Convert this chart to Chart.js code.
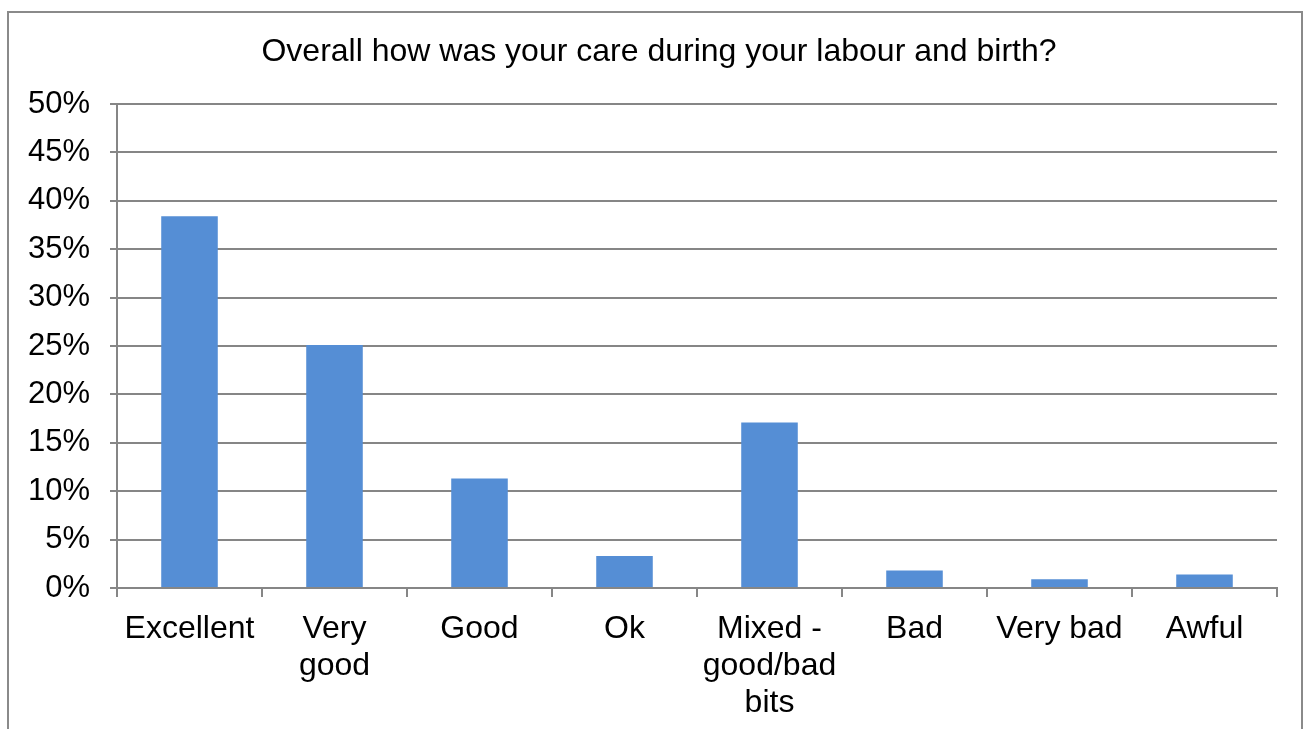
<!DOCTYPE html>
<html>
<head>
<meta charset="utf-8">
<script src="https://cdn.jsdelivr.net/npm/chart.js@4"></script>
<style>
  html, body { margin: 0; padding: 0; background: #ffffff; overflow: hidden; }
  #frame { position: absolute; left: 7px; top: 11px; width: 1296px; height: 760px; border: 2px solid #8a8a8a; box-sizing: border-box; }
  #wrap { position: absolute; left: 0; top: 0; width: 1306px; height: 729px; }
</style>
</head>
<body>
<div id="frame"></div>
<div id="wrap"><canvas id="c" width="1306" height="729"></canvas></div>
<script>
const chartTitle = "Overall how was your care during your labour and birth?";
const categories = [
  "Excellent",
  ["Very", "good"],
  "Good",
  "Ok",
  ["Mixed -", "good/bad", "bits"],
  "Bad",
  "Very bad",
  "Awful"
];
const values = [38.4, 25.1, 11.3, 3.3, 17.1, 1.8, 0.9, 1.4];
const yTickValues = [0, 5, 10, 15, 20, 25, 30, 35, 40, 45, 50];

const FONT = "'Liberation Sans', Arial, sans-serif";
const GRID = "#868686";

const titlePlugin = {
  id: "fixedTitle",
  afterDraw(chart) {
    const ctx = chart.ctx;
    ctx.save();
    ctx.font = "32px " + FONT;
    ctx.fillStyle = "#000000";
    ctx.textAlign = "center";
    ctx.textBaseline = "middle";
    ctx.fillText(chartTitle, 659, 52);
    ctx.restore();
  }
};

new Chart(document.getElementById("c"), {
  type: "bar",
  data: {
    labels: categories,
    datasets: [{
      data: values,
      backgroundColor: "#558ed5",
      borderWidth: 0,
      categoryPercentage: 1.0,
      barPercentage: 0.39
    }]
  },
  plugins: [titlePlugin],
  options: {
    responsive: false,
    animation: false,
    devicePixelRatio: 1,
    layout: { padding: { left: 0, right: 29, top: 104, bottom: 0 } },
    plugins: {
      legend: { display: false },
      tooltip: { enabled: false },
      title: { display: false }
    },
    scales: {
      y: {
        min: 0,
        max: 50,
        afterBuildTicks: (s) => { s.ticks = yTickValues.map(v => ({ value: v })); },
        afterFit: (s) => { s.width = 117; },
        border: { display: true, color: GRID, width: 2 },
        grid: { color: GRID, lineWidth: 2, drawTicks: true, tickLength: 7, tickColor: GRID },
        ticks: {
          color: "#000000",
          font: { family: FONT, size: 31 },
          padding: 20,
          callback: (v) => v + "%"
        }
      },
      x: {
        afterFit: (s) => { s.height = 141; },
        border: { display: true, color: GRID, width: 2 },
        grid: { display: true, drawOnChartArea: false, drawTicks: true, tickLength: 9, tickColor: GRID, lineWidth: 2, offset: true },
        ticks: {
          color: "#000000",
          font: { family: FONT, size: 32, lineHeight: 1.15 },
          maxRotation: 0,
          minRotation: 0,
          autoSkip: false,
          padding: 14
        }
      }
    }
  }
});
</script>
</body>
</html>
